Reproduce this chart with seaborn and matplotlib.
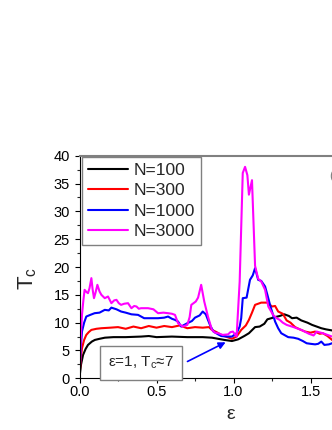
import numpy as np
import pandas as pd
import seaborn as sns
import matplotlib
matplotlib.use("Agg")
from matplotlib import pyplot as plt
from matplotlib.ticker import MultipleLocator

# values
eps_100 = [0.0, 0.01, 0.023, 0.04, 0.055, 0.08, 0.10, 0.13, 0.165, 0.22, 0.3, 0.4, 0.45, 0.5, 0.6,
           0.7, 0.8, 0.86, 0.9, 0.94, 0.99, 1.03, 1.07, 1.10, 1.14, 1.17, 1.20, 1.22, 1.27, 1.30,
           1.33, 1.36, 1.38, 1.41, 1.44, 1.48, 1.51, 1.54, 1.57, 1.60, 1.64, 1.68]
tc_100 = [0.2, 2.5, 4.2, 5.3, 6.0, 6.6, 6.9, 7.1, 7.3, 7.4, 7.4, 7.5, 7.6, 7.4, 7.5,
          7.4, 7.4, 7.3, 7.1, 6.9, 6.7, 7.0, 7.6, 8.1, 9.2, 9.3, 9.8, 10.6, 11.0, 11.2,
          11.5, 11.2, 10.8, 10.9, 10.4, 10.0, 9.6, 9.3, 9.0, 8.8, 8.6, 8.4]

eps_300 = [0.0, 0.008, 0.016, 0.03, 0.044, 0.06, 0.077, 0.11, 0.142, 0.2, 0.25, 0.3, 0.35, 0.4,
           0.45, 0.5, 0.55, 0.6, 0.65, 0.7, 0.75, 0.8, 0.84, 0.86, 0.89, 0.92, 0.96, 0.99, 1.02,
           1.05, 1.08, 1.10, 1.12, 1.14, 1.18, 1.22, 1.25, 1.27, 1.29, 1.32, 1.345, 1.37, 1.40,
           1.43, 1.465, 1.5, 1.53, 1.56, 1.58, 1.61, 1.64, 1.68]
tc_300 = [0.2, 3.5, 5.4, 6.9, 7.8, 8.3, 8.7, 8.9, 9.0, 9.1, 9.2, 8.9, 9.3, 9.0,
          9.4, 9.1, 9.4, 9.2, 9.5, 9.0, 9.2, 9.1, 9.2, 8.7, 8.3, 7.8, 7.4, 7.1, 7.5,
          8.7, 9.5, 10.5, 11.8, 13.2, 13.6, 13.6, 12.9, 13.0, 12.0, 11.6, 10.4, 10.0, 9.2,
          8.8, 8.4, 8.2, 8.4, 8.0, 8.1, 7.6, 6.9, 6.6]

eps_1000 = [0.0, 0.008, 0.016, 0.03, 0.044, 0.07, 0.098, 0.13, 0.164, 0.19, 0.207, 0.24, 0.27,
            0.30, 0.337, 0.38, 0.42, 0.46, 0.51, 0.55, 0.575, 0.6, 0.62, 0.64, 0.66, 0.68, 0.70,
            0.73, 0.75, 0.78, 0.80, 0.82, 0.834, 0.85, 0.87, 0.90, 0.92, 0.96, 0.99, 1.02, 1.04,
            1.05, 1.06, 1.085, 1.107, 1.125, 1.14, 1.16, 1.18, 1.205, 1.22, 1.24, 1.27, 1.29,
            1.31, 1.355, 1.39, 1.42, 1.45, 1.475, 1.5, 1.53, 1.55, 1.57, 1.59, 1.62, 1.64, 1.68]
tc_1000 = [0.2, 5.5, 8.4, 10.0, 11.1, 11.4, 11.7, 11.8, 12.3, 12.2, 12.7, 12.4, 12.0,
           11.8, 11.5, 11.4, 10.8, 10.8, 10.8, 10.9, 11.1, 10.7, 10.5, 10.2, 9.3, 9.6, 9.9,
           10.3, 10.9, 11.3, 12.0, 11.5, 10.5, 9.4, 8.4, 7.9, 7.6, 7.5, 7.5, 8.1, 9.3,
           10.8, 14.4, 14.5, 17.7, 18.5, 19.8, 17.7, 17.5, 16.5, 15.0, 12.9, 10.2, 9.0,
           8.1, 7.4, 7.3, 7.1, 6.7, 6.3, 6.2, 6.1, 6.2, 6.6, 6.0, 6.1, 6.3, 6.2]

eps_3000 = [0.0, 0.008, 0.016, 0.025, 0.033, 0.045, 0.055, 0.065, 0.077, 0.085, 0.094, 0.105,
            0.116, 0.13, 0.142, 0.164, 0.185, 0.207, 0.225, 0.24, 0.255, 0.27, 0.29, 0.315,
            0.337, 0.355, 0.37, 0.385, 0.40, 0.445, 0.48, 0.51, 0.545, 0.575, 0.6, 0.62, 0.64,
            0.67, 0.70, 0.715, 0.726, 0.755, 0.77, 0.79, 0.81, 0.834, 0.86, 0.88, 0.90, 0.93,
            0.965, 0.98, 0.996, 1.02, 1.04, 1.06, 1.075, 1.09, 1.10, 1.12, 1.14, 1.16, 1.18,
            1.205, 1.226, 1.257, 1.28, 1.30, 1.32, 1.345, 1.39, 1.44, 1.49, 1.52, 1.54, 1.58,
            1.61, 1.64, 1.68]
tc_3000 = [0.2, 7.0, 11.4, 14.0, 15.9, 15.5, 15.3, 16.2, 18.0, 16.0, 14.4, 15.5,
           16.8, 15.6, 15.0, 14.4, 14.7, 13.5, 14.0, 14.1, 13.5, 13.2, 13.4, 13.5,
           12.6, 13.0, 12.9, 12.5, 12.6, 12.6, 12.4, 11.7, 11.8, 11.7, 11.6, 11.4, 9.9,
           9.3, 9.6, 11.0, 13.2, 13.8, 14.5, 16.8, 13.8, 11.1, 8.7, 8.2, 8.1, 7.8,
           7.9, 8.3, 8.4, 7.5, 17.4, 36.9, 38.0, 36.5, 33.0, 35.6, 20.2, 17.9, 17.4,
           15.9, 12.9, 11.4, 10.8, 10.5, 10.0, 9.6, 9.2, 8.7, 8.0, 7.7, 8.4, 8.1,
           7.8, 7.5, 7.3]

labels = ["N=100", "N=300", "N=1000", "N=3000"]
colors = ["#000000", "#ff0000", "#0000ff", "#ff00ff"]

frames = []
for lab, xs, ys in zip(labels, [eps_100, eps_300, eps_1000, eps_3000],
                       [tc_100, tc_300, tc_1000, tc_3000]):
    frames.append(pd.DataFrame({"eps": xs, "Tc": ys, "N": lab}))
data = pd.concat(frames, ignore_index=True)

sns.set_style("ticks")
plt.rcParams["font.family"] = ["Liberation Sans", "DejaVu Sans"]
plt.rcParams["mathtext.fontset"] = "custom"
plt.rcParams["mathtext.rm"] = "Liberation Sans"

fig = plt.figure(figsize=(3.32, 4.30), dpi=100)
ax = fig.add_axes([0.2395, 0.1202, 0.9277, 0.5177])

sns.lineplot(data=data, x="eps", y="Tc", hue="N", palette=colors, estimator=None,
             sort=False, linewidth=1.5, ax=ax)

ax.set_xlim(0, 2.0)
ax.set_ylim(0, 40)
ax.xaxis.set_major_locator(MultipleLocator(0.5))
ax.xaxis.set_minor_locator(MultipleLocator(0.25))
ax.yaxis.set_major_locator(MultipleLocator(5))
ax.yaxis.set_minor_locator(MultipleLocator(2.5))
ax.xaxis.set_major_formatter(matplotlib.ticker.FormatStrFormatter("%.1f"))
ax.tick_params(axis="both", which="major", direction="out", length=3.5, width=0.8,
               labelsize=10.5, colors="black")
ax.tick_params(axis="both", which="minor", direction="out", length=2, width=0.8)
ax.tick_params(axis="x", which="major", pad=1)

for side in ["left", "bottom"]:
    ax.spines[side].set_color("black")
    ax.spines[side].set_linewidth(0.8)
ax.spines["top"].set_visible(True)
ax.spines["top"].set_color("#808080")
ax.spines["top"].set_linewidth(1.5)
ax.spines["right"].set_visible(False)

ax.set_xlabel("ε", fontsize=14)
ax.set_ylabel(r"T$_\mathregular{c}$", fontsize=16)
ax.xaxis.set_label_coords(0.492, -0.125)
ax.xaxis.label.set_va("top")
ax.yaxis.set_label_coords(-0.13, 0.45)

leg = ax.legend(loc="upper left", bbox_to_anchor=(0.008, 0.995), borderaxespad=0,
                fontsize=12.5, frameon=True, fancybox=False, framealpha=1,
                edgecolor="#808080", handlelength=2.3, handletextpad=0.3,
                labelspacing=0.3, borderpad=0.35, title=None)
leg.get_frame().set_linewidth(1.0)
for line in leg.get_lines():
    line.set_linewidth(1.5)

ax.text(0.40, 2.75, r"ε=1, T$_\mathregular{c}$≈7", fontsize=11, ha="center", va="center",
        bbox=dict(boxstyle="square,pad=0.55", fc="white", ec="#808080", lw=1.0))
ax.annotate("", xy=(0.965, 6.7), xytext=(0.685, 2.8),
            arrowprops=dict(arrowstyle="-|>", color="blue", lw=1.2, mutation_scale=10))

fig.text(329.5 / 332, 1 - 176.5 / 430, "(c)", color="#808080", fontsize=9,
         ha="left", va="center")

fig.savefig("out.png", dpi=100)
